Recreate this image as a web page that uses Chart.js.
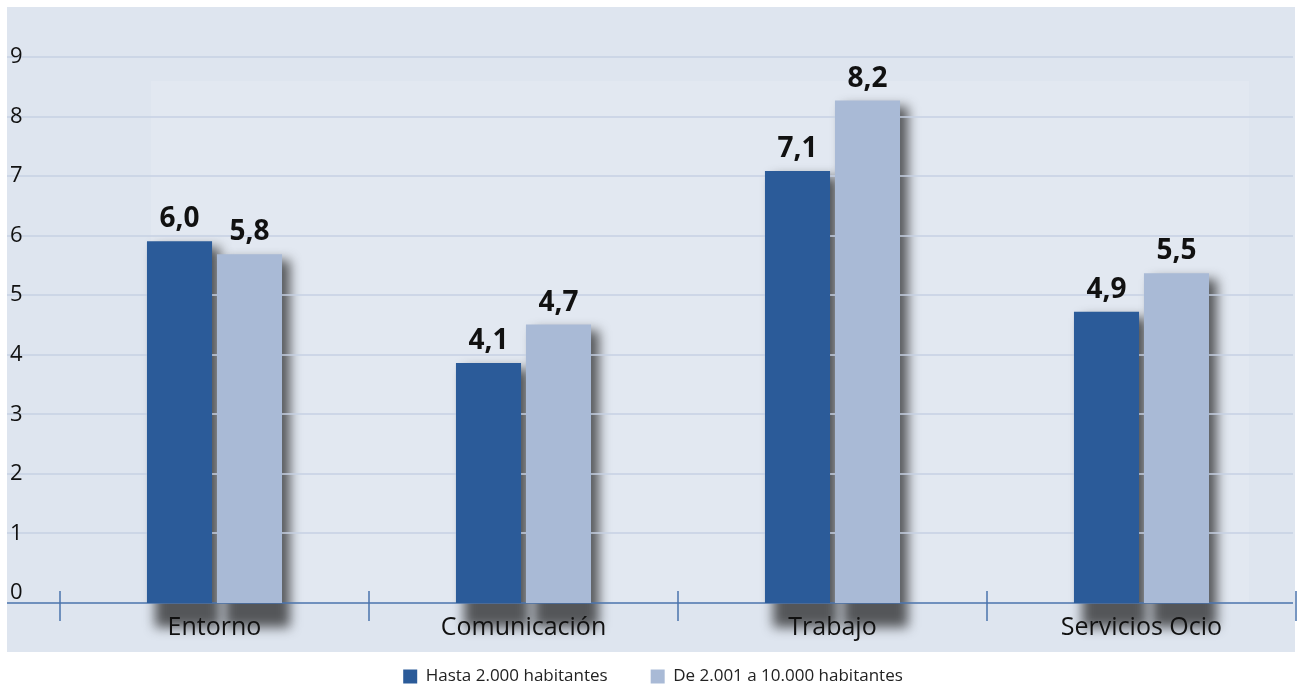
<!DOCTYPE html>
<html>
<head>
<meta charset="utf-8">
<script src="https://cdn.jsdelivr.net/npm/chart.js@4.4.1/dist/chart.umd.min.js"></script>
<style>
html, body { margin: 0; padding: 0; background: #fff; overflow: hidden; }
</style>
</head>
<body>
<canvas id="chart" width="1301" height="695"></canvas>
<script>
// Datos del gráfico
const categories = ['Entorno', 'Comunicación', 'Trabajo', 'Servicios Ocio'];
const seriesNames = ['Hasta 2.000 habitantes', 'De 2.001 a 10.000 habitantes'];
const hasta2000 = [6.0, 4.1, 7.1, 4.9];
const de2001a10000 = [5.8, 4.7, 8.2, 5.5];
const yTicks = [0, 1, 2, 3, 4, 5, 6, 7, 8, 9];

const DARK = '#2b5b99';
const LIGHT = '#a9bad6';
const AXIS = '#4a73ad';

Chart.defaults.font.family = "'Open Sans', 'Noto Sans', sans-serif";
Chart.defaults.color = '#111';

// fondo, sombras de las barras, rejilla y eje
const backdrop = {
    id: 'backdrop',
    beforeDraw(chart) {
        const ctx = chart.ctx;
        const area = chart.chartArea;
        const y = chart.scales.y;
        ctx.save();
        ctx.fillStyle = '#ffffff';
        ctx.fillRect(0, 0, chart.width, chart.height);
        ctx.fillStyle = '#dee5ef';
        ctx.fillRect(7, 7, 1288, 645);
        ctx.fillStyle = '#e2e8f1';
        ctx.fillRect(151, 81, 1098, area.bottom - 81);

        // sombras
        ctx.filter = 'blur(6px)';
        ctx.fillStyle = 'rgba(30,30,30,0.72)';
        chart.data.datasets.forEach((ds, i) => {
            chart.getDatasetMeta(i).data.forEach(bar => {
                ctx.fillRect(bar.x - bar.width / 2 + 8, bar.y + 6, bar.width, bar.base - bar.y - 4);
            });
        });
        ctx.filter = 'none';

        // rejilla
        ctx.strokeStyle = '#c6d0e3';
        ctx.lineWidth = 1.5;
        for (const v of yTicks) {
            if (v === 0) continue;
            const py = Math.round(y.getPixelForValue(v));
            ctx.beginPath();
            ctx.moveTo(7, py);
            ctx.lineTo(1293, py);
            ctx.stroke();
        }

        // eje x
        ctx.strokeStyle = AXIS;
        ctx.beginPath();
        ctx.moveTo(7, area.bottom);
        ctx.lineTo(1293, area.bottom);
        ctx.stroke();
        const step = (area.right - area.left) / categories.length;
        for (let i = 0; i <= categories.length; i++) {
            const px = Math.round(area.left + i * step);
            ctx.beginPath();
            ctx.moveTo(px, area.bottom - 12);
            ctx.lineTo(px, area.bottom + 18);
            ctx.stroke();
        }
        ctx.restore();
    }
};

// etiquetas de valor sobre las barras
const valueLabels = {
    id: 'valueLabels',
    afterDatasetsDraw(chart) {
        const ctx = chart.ctx;
        ctx.save();
        ctx.font = "bold 28px 'Open Sans', 'Noto Sans', sans-serif";
        ctx.fillStyle = '#111';
        ctx.textAlign = 'center';
        ctx.textBaseline = 'alphabetic';
        chart.data.datasets.forEach((ds, i) => {
            chart.getDatasetMeta(i).data.forEach((bar, j) => {
                const txt = ds.data[j].toFixed(1).replace('.', ',');
                ctx.fillText(txt, bar.x, bar.y - 14);
            });
        });
        ctx.restore();
    }
};

new Chart(document.getElementById('chart'), {
    type: 'bar',
    data: {
        labels: categories,
        datasets: [
            {
                label: seriesNames[0],
                data: hasta2000,
                backgroundColor: DARK,
                borderWidth: 0,
                yAxisID: 'yb',
                categoryPercentage: 0.453,
                barPercentage: 0.93
            },
            {
                label: seriesNames[1],
                data: de2001a10000,
                backgroundColor: LIGHT,
                borderWidth: 0,
                yAxisID: 'yb',
                categoryPercentage: 0.453,
                barPercentage: 0.93
            }
        ]
    },
    options: {
        responsive: false,
        animation: false,
        devicePixelRatio: 1,
        layout: { padding: { top: 57, left: 10, right: 5, bottom: 0 } },
        plugins: {
            tooltip: { enabled: false },
            legend: {
                position: 'bottom',
                labels: {
                    boxWidth: 14,
                    boxHeight: 14,
                    padding: 43,
                    color: '#222',
                    font: { size: 17 }
                }
            }
        },
        scales: {
            x: {
                grid: { display: false, drawTicks: false },
                border: { display: false },
                // mirror evita el recorte de las etiquetas en la caja del eje
                ticks: { font: { size: 25 }, color: '#111', mirror: true, padding: -40 },
                afterFit: s => { s.height = 22; }
            },
            y: {
                min: -0.17,
                max: 9,
                grid: { display: false, drawTicks: false },
                border: { display: false },
                ticks: { font: { size: 22 }, color: '#111', padding: 0, crossAlign: 'far' },
                afterBuildTicks: s => { s.ticks = yTicks.map(v => ({ value: v })); },
                afterFit: s => { s.width = 50; }
            },
            // escala de las barras (el dibujo original no coincide con la rejilla)
            yb: {
                display: false,
                min: 0.35,
                max: 8.88
            }
        }
    },
    plugins: [backdrop, valueLabels]
});
</script>
</body>
</html>
